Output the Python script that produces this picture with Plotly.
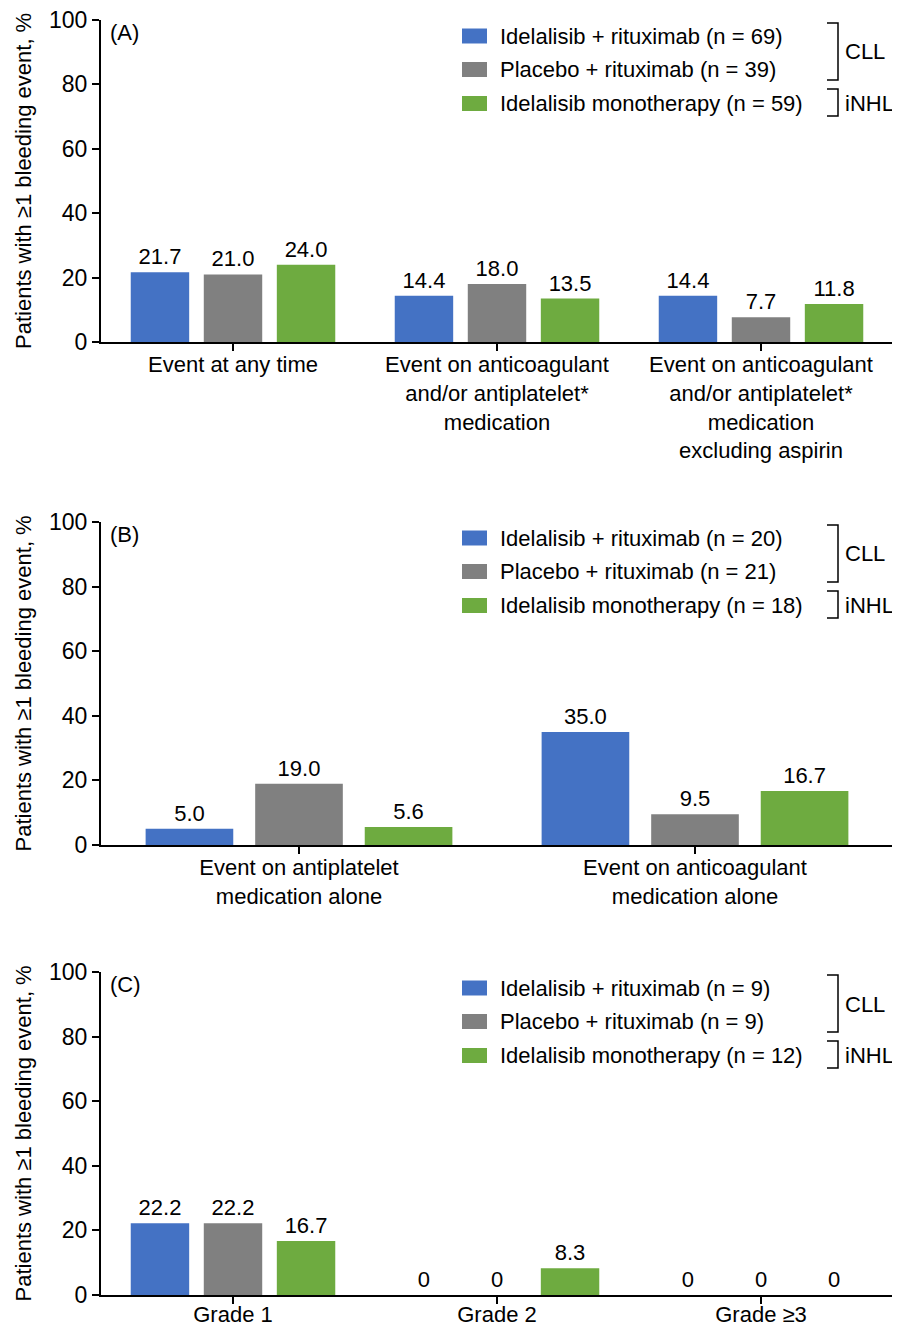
import plotly.graph_objects as go
from plotly.subplots import make_subplots

# page body has an 8px margin; the figure is sized to fill the rest of the window
OFF = 8
W, H = 900 - OFF, 1328 - OFF

series_names = ["Idelalisib + rituximab", "Placebo + rituximab", "Idelalisib monotherapy"]
colors = ["#4472C4", "#808080", "#6EAB40"]

cats_a = ["Event at any time",
          "Event on anticoagulant<br>and/or antiplatelet*<br>medication",
          "Event on anticoagulant<br>and/or antiplatelet*<br>medication<br>excluding aspirin"]
vals_a_idr = [21.7, 14.4, 14.4]
vals_a_pr = [21.0, 18.0, 7.7]
vals_a_mono = [24.0, 13.5, 11.8]
n_a = [69, 39, 59]

cats_b = ["Event on antiplatelet<br>medication alone",
          "Event on anticoagulant<br>medication alone"]
vals_b_idr = [5.0, 35.0]
vals_b_pr = [19.0, 9.5]
vals_b_mono = [5.6, 16.7]
n_b = [20, 21, 18]

cats_c = ["Grade 1", "Grade 2", "Grade ≥3"]
vals_c_idr = [22.2, 0, 0]
vals_c_pr = [22.2, 0, 0]
vals_c_mono = [16.7, 8.3, 0]
n_c = [9, 9, 12]

panel_labels = ["(A)", "(B)", "(C)"]
y_ticks = [0, 20, 40, 60, 80, 100]
y_title = "Patients with ≥1 bleeding event, %"

FONT = "Liberation Sans, Arial, sans-serif"
FS = 22
FS_TICK = 23

panels = [
    (cats_a, [vals_a_idr, vals_a_pr, vals_a_mono], n_a),
    (cats_b, [vals_b_idr, vals_b_pr, vals_b_mono], n_b),
    (cats_c, [vals_c_idr, vals_c_pr, vals_c_mono], n_c),
]
# window-pixel positions of plot areas (top = 100, bottom = 0)
tops = [20, 522, 972]
bottoms = [342, 845, 1295]
x_left, x_right = 101, 893
label_standoff = [-5, -5, -8]


def fmt(v):
    return "0" if v == 0 else f"{v:.1f}"


def px(x):
    return (x - OFF) / W


def py(y):
    return 1 - (y - OFF) / H


fig = make_subplots(rows=3, cols=1)

for i, (cats, vals, ns) in enumerate(panels):
    for j in range(3):
        fig.add_trace(go.Bar(
            x=cats, y=vals[j], name=series_names[j],
            marker=dict(color=colors[j], line=dict(width=0)),
            text=[fmt(v) for v in vals[j]], textposition="outside",
            textfont=dict(size=FS, color="black", family=FONT),
            constraintext="none", cliponaxis=False, showlegend=False,
        ), row=i + 1, col=1)

shapes = []
annotations = []
for i, (cats, vals, ns) in enumerate(panels):
    xa = "xaxis" if i == 0 else f"xaxis{i+1}"
    ya = "yaxis" if i == 0 else f"yaxis{i+1}"
    fig.layout[xa].update(
        domain=[px(x_left), px(x_right)], automargin=False,
        showline=True, linecolor="black", linewidth=2,
        ticks="outside", ticklen=7, tickwidth=1.5, tickcolor="black",
        showgrid=False, zeroline=False, ticklabelstandoff=label_standoff[i],
        ticklabeloverflow="allow",
        tickfont=dict(size=FS, color="black", family=FONT),
    )
    fig.layout[ya].update(
        domain=[py(bottoms[i]), py(tops[i])], automargin=False,
        range=[0, 100], tickvals=y_ticks,
        showline=True, linecolor="black", linewidth=2,
        ticks="outside", ticklen=7, tickwidth=1.5, tickcolor="black",
        showgrid=False, zeroline=False, ticklabeloverflow="allow",
        tickfont=dict(size=FS_TICK, color="black", family=FONT),
    )
    t = tops[i]
    annotations.append(dict(
        x=px(23), y=py((tops[i] + bottoms[i]) / 2), xref="paper", yref="paper",
        text=y_title, textangle=-90, showarrow=False,
        xanchor="center", yanchor="middle",
        font=dict(size=FS, color="black", family=FONT)))
    annotations.append(dict(
        x=px(108), y=py(t + 12), xref="paper", yref="paper", text=panel_labels[i],
        showarrow=False, xanchor="left", yanchor="middle",
        font=dict(size=FS, color="black", family=FONT)))
    rows_y = [t + 16, t + 49.5, t + 83.5]
    for j in range(3):
        ry = rows_y[j]
        shapes.append(dict(type="rect", xref="paper", yref="paper",
                           x0=px(462), x1=px(487), y0=py(ry - 7.5), y1=py(ry + 7.5),
                           fillcolor=colors[j], line=dict(width=0)))
        annotations.append(dict(
            x=px(498), y=py(ry), xref="paper", yref="paper",
            text=f"{series_names[j]} (n = {ns[j]})",
            showarrow=False, xanchor="left", yanchor="middle",
            font=dict(size=FS, color="black", family=FONT)))
    bx = 838
    for (y0, y1, lab, ly) in [(t + 3, t + 60, "CLL", t + 32), (t + 69, t + 96, "iNHL", t + 83.5)]:
        shapes.append(dict(type="path", xref="paper", yref="paper",
                           path=f"M {px(bx-11)},{py(y0)} L {px(bx)},{py(y0)} L {px(bx)},{py(y1)} L {px(bx-11)},{py(y1)}",
                           line=dict(color="black", width=1.5)))
        annotations.append(dict(
            x=px(bx + 5), y=py(ly), xref="paper", yref="paper", text=lab,
            showarrow=False, xanchor="left", yanchor="middle",
            font=dict(size=FS, color="black", family=FONT)))

fig.update_layout(
    width=W, height=H,
    margin=dict(l=0, r=0, t=0, b=0),
    plot_bgcolor="white", paper_bgcolor="white",
    barmode="group", bargap=0.17, bargroupgap=0.2,
    shapes=shapes, annotations=annotations,
    font=dict(family=FONT, color="black", size=FS),
)

fig.write_html("out.html")
